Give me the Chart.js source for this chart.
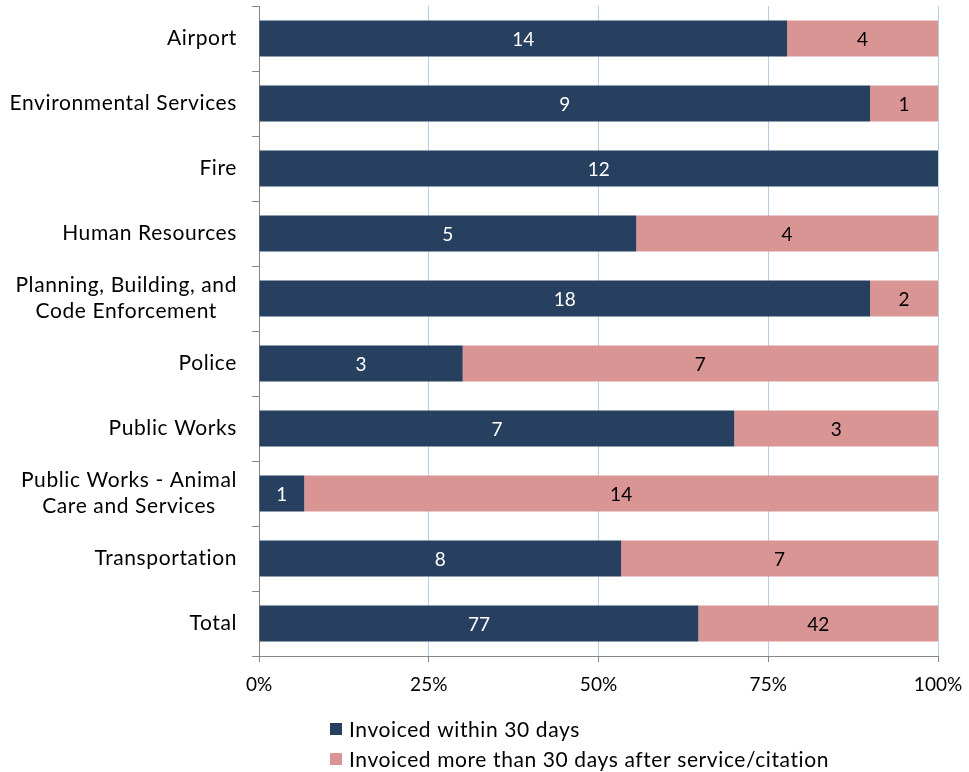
<!DOCTYPE html>
<html lang="en">
<head>
<meta charset="UTF-8">
<title>Invoicing timeliness by department</title>
<script src="https://cdn.jsdelivr.net/npm/chart.js"></script>
<style>
  html, body { margin: 0; padding: 0; background: #fff; }
  #wrap { width: 969px; height: 772px; position: relative; }
</style>
</head>
<body>
<div id="wrap"><canvas id="invoiceChart"></canvas></div>
<script>
// data
const departments = [
  ["Airport"],
  ["Environmental Services"],
  ["Fire"],
  ["Human Resources"],
  ["Planning, Building, and", "Code Enforcement"],
  ["Police"],
  ["Public Works"],
  ["Public Works - Animal", "Care and Services"],
  ["Transportation"],
  ["Total"]
];
const within30 = [14, 9, 12, 5, 18, 3, 7, 1, 8, 77];
const over30 = [4, 1, 0, 4, 2, 7, 3, 14, 7, 42];
const seriesNames = ["Invoiced within 30 days", "Invoiced more than 30 days after service/citation"];
const xTicks = [0, 25, 50, 75, 100];

const NAVY = "#27405F";
const PINK = "#D99594";
const GRID = "#B9CDE5";
const AXIS = "#868686";
const FONT = "Lato";

// shares of each row, so every bar fills to 100%
function share(counts) {
  return counts.map((v, i) => v / (within30[i] + over30[i]) * 100);
}

Chart.defaults.font.family = FONT;
Chart.defaults.font.size = 19;
Chart.defaults.color = "#000";

// y labels: right-aligned blocks, lines centred inside each block
const categoryLabels = {
  id: "categoryLabels",
  afterDraw(chart) {
    const ctx = chart.ctx;
    const y = chart.scales.y;
    const right = y.right - 22;
    ctx.save();
    ctx.font = "21px " + FONT;
    ctx.letterSpacing = "0.6px";
    ctx.fillStyle = "#000";
    ctx.textAlign = "center";
    ctx.textBaseline = "middle";
    departments.forEach((lines, i) => {
      const w = Math.max(...lines.map(l => ctx.measureText(l).width));
      const cx = right - w / 2;
      const cy = y.getPixelForValue(i);
      const lh = 26;
      lines.forEach((l, j) => {
        ctx.fillText(l, cx, cy + (j - (lines.length - 1) / 2) * lh);
      });
    });
    ctx.restore();
  }
};

// counts written in the middle of each segment
const segmentLabels = {
  id: "segmentLabels",
  afterDatasetsDraw(chart) {
    const ctx = chart.ctx;
    ctx.save();
    ctx.font = "19px " + FONT;
    ctx.textAlign = "center";
    ctx.textBaseline = "middle";
    chart.data.datasets.forEach((ds, di) => {
      const meta = chart.getDatasetMeta(di);
      meta.data.forEach((bar, i) => {
        const n = ds.counts[i];
        if (!n) return;
        ctx.fillStyle = di === 0 ? "#fff" : "#000";
        ctx.fillText(String(n), (bar.x + bar.base) / 2, bar.y + 1);
      });
    });
    ctx.restore();
  }
};

// two-row legend under the axis
const stackedLegend = {
  id: "stackedLegend",
  afterDraw(chart) {
    const ctx = chart.ctx;
    const x0 = 330;
    const rows = [729, 759];
    ctx.save();
    ctx.font = "21px " + FONT;
    ctx.letterSpacing = "0.6px";
    ctx.textBaseline = "middle";
    ctx.textAlign = "left";
    chart.data.datasets.forEach((ds, i) => {
      ctx.fillStyle = ds.backgroundColor;
      ctx.fillRect(x0, rows[i] - 6, 12, 12);
      ctx.fillStyle = "#000";
      ctx.fillText(ds.label, x0 + 19, rows[i] + 1);
    });
    ctx.restore();
  }
};

new Chart(document.getElementById("invoiceChart"), {
  type: "bar",
  data: {
    labels: departments.map(l => l.join(" ")),
    datasets: [
      {
        label: seriesNames[0],
        data: share(within30),
        counts: within30,
        backgroundColor: NAVY,
        barPercentage: 0.555,
        categoryPercentage: 1
      },
      {
        label: seriesNames[1],
        data: share(over30),
        counts: over30,
        backgroundColor: PINK,
        barPercentage: 0.555,
        categoryPercentage: 1
      }
    ]
  },
  options: {
    indexAxis: "y",
    responsive: true,
    maintainAspectRatio: false,
    animation: false,
    layout: { padding: { top: 6, right: 31, bottom: 66, left: 0 } },
    plugins: {
      legend: { display: false },
      tooltip: { enabled: false }
    },
    scales: {
      x: {
        stacked: true,
        min: 0,
        max: 100,
        afterBuildTicks(scale) {
          scale.ticks = xTicks.map(v => ({ value: v }));
        },
        afterFit(scale) {
          scale.height = 50;
          scale.paddingLeft = 0;
          scale.paddingRight = 0;
        },
        ticks: {
          padding: 11,
          callback: v => v + "%"
        },
        grid: {
          color: ctx => (ctx.tick && ctx.tick.value === 0) ? "rgba(0,0,0,0)" : GRID,
          tickColor: AXIS,
          tickLength: 6
        },
        border: { color: AXIS }
      },
      y: {
        stacked: true,
        afterFit(scale) { scale.width = 259; },
        ticks: { display: false },
        grid: {
          offset: true,
          drawOnChartArea: false,
          color: AXIS,
          tickLength: 7
        },
        border: { color: AXIS }
      }
    }
  },
  plugins: [categoryLabels, segmentLabels, stackedLegend]
});
</script>
</body>
</html>
